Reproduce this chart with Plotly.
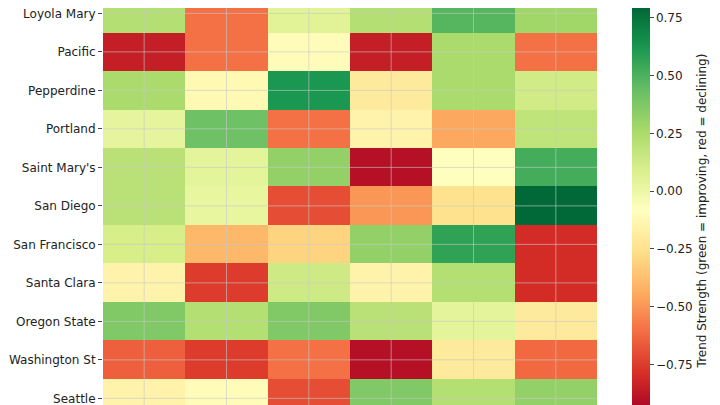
import plotly.graph_objects as go

teams = ["Loyola Mary", "Pacific", "Pepperdine", "Portland", "Saint Mary's", "San Diego",
         "San Francisco", "Santa Clara", "Oregon State", "Washington St", "Seattle"]
periods = ["P1", "P2", "P3", "P4", "P5", "P6"]
values = [
    [0.22, -0.60, 0.05, 0.22, 0.48, 0.28],
    [-0.85, -0.60, -0.10, -0.85, 0.25, -0.60],
    [0.25, -0.12, 0.62, -0.20, 0.25, 0.12],
    [0.03, 0.42, -0.60, -0.15, -0.45, 0.18],
    [0.20, 0.04, 0.32, -0.90, -0.08, 0.52],
    [0.20, 0.02, -0.70, -0.50, -0.25, 0.79],
    [0.10, -0.40, -0.30, 0.32, 0.57, -0.80],
    [-0.15, -0.75, 0.13, -0.15, 0.22, -0.80],
    [0.37, 0.22, 0.37, 0.20, 0.04, -0.20],
    [-0.65, -0.75, -0.60, -0.90, -0.20, -0.62],
    [-0.15, -0.10, -0.70, 0.37, 0.22, 0.32],
]

fig = go.Figure(go.Heatmap(
    z=values, x=periods, y=teams, colorscale="RdYlGn", zmin=-0.96, zmax=0.793,
    colorbar=dict(
        title=dict(text="Trend Strength (green = improving, red = declining)", side="right",
                   font=dict(family="DejaVu Sans", size=12, color="#222")),
        tickvals=[-0.75, -0.5, -0.25, 0, 0.25, 0.5, 0.75],
        ticktext=["−0.75", "−0.50", "−0.25", "0.00", "0.25", "0.50", "0.75"],
        tickfont=dict(family="DejaVu Sans", size=12, color="#222"),
        thickness=18, lenmode="fraction", len=1, y=0.5, yanchor="middle", ypad=0,
        x=1.05, xanchor="left", outlinewidth=0, ticks="outside", ticklen=4,
    ),
))
shapes = []
for i in range(len(periods)):
    shapes.append(dict(type="line", xref="x", yref="paper", x0=i, x1=i, y0=0, y1=1,
                       line=dict(color="rgba(200,200,200,0.6)", width=1), layer="above"))
for j in range(len(teams)):
    shapes.append(dict(type="line", xref="paper", yref="y", x0=0, x1=1, y0=j, y1=j,
                       line=dict(color="rgba(200,200,200,0.6)", width=1), layer="above"))
fig.update_layout(
    width=720, height=405, margin=dict(l=95, r=131, t=0, b=0, autoexpand=False),
    paper_bgcolor="white", plot_bgcolor="white", shapes=shapes,
    xaxis=dict(showticklabels=False, showgrid=False, ticks=""),
    yaxis=dict(range=[10.38, -0.14], showgrid=False, ticks="outside", ticklen=4,
               tickfont=dict(family="DejaVu Sans", size=12, color="#222")),
)
fig.write_html("out.html")
